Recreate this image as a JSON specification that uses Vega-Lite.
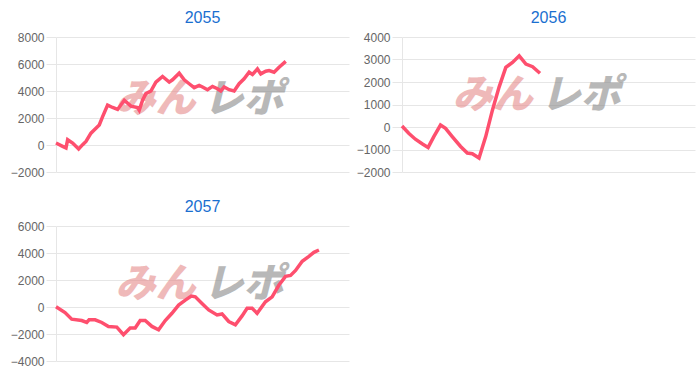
{
  "$schema": "https://vega.github.io/schema/vega-lite/v6.json",
  "background": "white",
  "padding": {"left": 10, "top": 10, "right": 5, "bottom": 5},
  "columns": 2,
  "spacing": {"row": 21, "column": 7},
  "datasets": {
    "y2055": [
      {"i": 0, "v": 146}, {"i": 2.27, "v": -98}, {"i": 3.41, "v": -220}, {"i": 3.98, "v": 390}, {"i": 5.68, "v": 146},
      {"i": 7.73, "v": -293}, {"i": 9.09, "v": 24}, {"i": 10.23, "v": 268}, {"i": 11.93, "v": 878}, {"i": 13.64, "v": 1244},
      {"i": 14.77, "v": 1488}, {"i": 15.91, "v": 2098}, {"i": 17.61, "v": 2951}, {"i": 19.32, "v": 2780}, {"i": 21.02, "v": 2634},
      {"i": 23.3, "v": 3317}, {"i": 25.57, "v": 2878}, {"i": 27.84, "v": 2780}, {"i": 28.41, "v": 2585}, {"i": 29.55, "v": 3317},
      {"i": 30.68, "v": 3805}, {"i": 32.39, "v": 4000}, {"i": 34.09, "v": 4659}, {"i": 36.36, "v": 5073}, {"i": 38.64, "v": 4659},
      {"i": 39.77, "v": 4829}, {"i": 42.05, "v": 5317}, {"i": 43.75, "v": 4829}, {"i": 45.45, "v": 4537}, {"i": 47.16, "v": 4244},
      {"i": 48.86, "v": 4415}, {"i": 50, "v": 4293}, {"i": 51.7, "v": 4098}, {"i": 53.41, "v": 4341}, {"i": 55.11, "v": 4171},
      {"i": 56.25, "v": 4000}, {"i": 57.39, "v": 4293}, {"i": 59.09, "v": 4098}, {"i": 60.8, "v": 4000}, {"i": 62.5, "v": 4537},
      {"i": 64.2, "v": 4902}, {"i": 65.91, "v": 5390}, {"i": 67.05, "v": 5220}, {"i": 68.75, "v": 5634}, {"i": 69.89, "v": 5268},
      {"i": 71.59, "v": 5463}, {"i": 72.73, "v": 5512}, {"i": 74.43, "v": 5390}, {"i": 76.14, "v": 5756}, {"i": 78.41, "v": 6195}
    ],
    "y2056": [
      {"i": 0, "v": 44}, {"i": 2.29, "v": -278}, {"i": 4.57, "v": -542}, {"i": 6.86, "v": -747}, {"i": 8.91, "v": -908},
      {"i": 10.86, "v": -425}, {"i": 13.14, "v": 88}, {"i": 14.86, "v": -59}, {"i": 17.14, "v": -425}, {"i": 20, "v": -864},
      {"i": 22.29, "v": -1157}, {"i": 24, "v": -1186}, {"i": 26.29, "v": -1376}, {"i": 28.57, "v": -425}, {"i": 30.86, "v": 747},
      {"i": 33.14, "v": 1772}, {"i": 35.43, "v": 2650}, {"i": 37.71, "v": 2870}, {"i": 40, "v": 3162}, {"i": 42.29, "v": 2796},
      {"i": 44.57, "v": 2679}, {"i": 47.09, "v": 2386}
    ],
    "y2057": [
      {"i": 0, "v": 24}, {"i": 3.08, "v": -415}, {"i": 5.36, "v": -902}, {"i": 8.78, "v": -1000}, {"i": 10.49, "v": -1146},
      {"i": 11.29, "v": -951}, {"i": 13.34, "v": -951}, {"i": 15.62, "v": -1146}, {"i": 17.9, "v": -1439}, {"i": 20.75, "v": -1488},
      {"i": 23.03, "v": -2049}, {"i": 25.31, "v": -1561}, {"i": 27.02, "v": -1561}, {"i": 28.73, "v": -1000}, {"i": 30.44, "v": -1000},
      {"i": 32.73, "v": -1439}, {"i": 35.01, "v": -1683}, {"i": 37.29, "v": -1000}, {"i": 39.57, "v": -463}, {"i": 41.85, "v": 146},
      {"i": 44.13, "v": 512}, {"i": 46.18, "v": 805}, {"i": 47.55, "v": 756}, {"i": 49.83, "v": 268}, {"i": 52.11, "v": -220},
      {"i": 54.96, "v": -585}, {"i": 56.67, "v": -512}, {"i": 58.95, "v": -1073}, {"i": 61.23, "v": -1317}, {"i": 63.51, "v": -659},
      {"i": 65.22, "v": -98}, {"i": 66.93, "v": -98}, {"i": 68.64, "v": -463}, {"i": 71.49, "v": 390}, {"i": 73.77, "v": 756},
      {"i": 76.05, "v": 1610}, {"i": 78.34, "v": 2268}, {"i": 80.05, "v": 2341}, {"i": 81.76, "v": 2707}, {"i": 84.04, "v": 3390},
      {"i": 86.32, "v": 3756}, {"i": 88.03, "v": 4049}, {"i": 89.74, "v": 4220}
    ],
    "mark2055": [{"i": 34, "v": 3330, "t": "みん", "c": "pink"}, {"i": 64, "v": 3330, "t": "レポ", "c": "gray"}],
    "mark2056": [{"i": 31, "v": 1400, "t": "みん", "c": "pink"}, {"i": 61, "v": 1400, "t": "レポ", "c": "gray"}],
    "mark2057": [{"i": 34, "v": 1600, "t": "みん", "c": "pink"}, {"i": 64, "v": 1600, "t": "レポ", "c": "gray"}]
  },
  "concat": [
    {
      "title": {"text": "2055"},
      "width": 293, "height": 135,
      "encoding": {
        "x": {"field": "i", "type": "quantitative", "scale": {"domain": [0, 100]}, "axis": null},
        "y": {"field": "v", "type": "quantitative", "scale": {"domain": [-2000, 8000], "nice": false},
              "axis": {"values": [-2000, 0, 2000, 4000, 6000, 8000], "title": null, "format": "d", "labelOverlap": false}}
      },
      "layer": [
        {
          "data": {"name": "mark2055"},
          "mark": {"type": "text", "font": "Noto Sans CJK JP", "fontWeight": 900, "fontStyle": "italic", "fontSize": 40, "opacity": 0.6},
          "encoding": {
            "text": {"field": "t"},
            "color": {"field": "c", "type": "nominal", "scale": {"domain": ["pink", "gray"], "range": ["#e58c8c", "#8a8a8a"]}, "legend": null}
          }
        },
        {
          "mark": {"type": "rule", "color": "#c0c0c0", "strokeWidth": 1},
          "encoding": {"x": null, "y": {"datum": 0, "type": "quantitative"}}
        },
        {
          "data": {"name": "y2055"},
          "mark": {"type": "line", "color": "#fe4f6e", "strokeWidth": 3.5},
          "encoding": {}
        }
      ]
    },
    {
      "title": {"text": "2056"},
      "width": 293, "height": 135,
      "encoding": {
        "x": {"field": "i", "type": "quantitative", "scale": {"domain": [0, 100]}, "axis": null},
        "y": {"field": "v", "type": "quantitative", "scale": {"domain": [-2000, 4000], "nice": false},
              "axis": {"values": [-2000, -1000, 0, 1000, 2000, 3000, 4000], "title": null, "format": "d", "labelOverlap": false}}
      },
      "layer": [
        {
          "data": {"name": "mark2056"},
          "mark": {"type": "text", "font": "Noto Sans CJK JP", "fontWeight": 900, "fontStyle": "italic", "fontSize": 40, "opacity": 0.6},
          "encoding": {
            "text": {"field": "t"},
            "color": {"field": "c", "type": "nominal", "scale": {"domain": ["pink", "gray"], "range": ["#e58c8c", "#8a8a8a"]}, "legend": null}
          }
        },
        {
          "mark": {"type": "rule", "color": "#c0c0c0", "strokeWidth": 1},
          "encoding": {"x": null, "y": {"datum": 0, "type": "quantitative"}}
        },
        {
          "data": {"name": "y2056"},
          "mark": {"type": "line", "color": "#fe4f6e", "strokeWidth": 3.5},
          "encoding": {}
        }
      ]
    },
    {
      "title": {"text": "2057"},
      "width": 293, "height": 135,
      "encoding": {
        "x": {"field": "i", "type": "quantitative", "scale": {"domain": [0, 100]}, "axis": null},
        "y": {"field": "v", "type": "quantitative", "scale": {"domain": [-4000, 6000], "nice": false},
              "axis": {"values": [-4000, -2000, 0, 2000, 4000, 6000], "title": null, "format": "d", "labelOverlap": false}}
      },
      "layer": [
        {
          "data": {"name": "mark2057"},
          "mark": {"type": "text", "font": "Noto Sans CJK JP", "fontWeight": 900, "fontStyle": "italic", "fontSize": 40, "opacity": 0.6},
          "encoding": {
            "text": {"field": "t"},
            "color": {"field": "c", "type": "nominal", "scale": {"domain": ["pink", "gray"], "range": ["#e58c8c", "#8a8a8a"]}, "legend": null}
          }
        },
        {
          "mark": {"type": "rule", "color": "#c0c0c0", "strokeWidth": 1},
          "encoding": {"x": null, "y": {"datum": 0, "type": "quantitative"}}
        },
        {
          "data": {"name": "y2057"},
          "mark": {"type": "line", "color": "#fe4f6e", "strokeWidth": 3.5},
          "encoding": {}
        }
      ]
    }
  ],
  "config": {
    "view": {"stroke": null},
    "font": "Liberation Sans",
    "title": {"fontSize": 16, "fontWeight": "normal", "color": "#1a6fd0", "font": "Liberation Sans", "offset": 5, "anchor": "middle"},
    "axisY": {
      "labelFont": "Liberation Sans", "labelFontSize": 12, "labelColor": "#666666",
      "gridColor": "#e6e6e6", "domainColor": "#e6e6e6", "tickColor": "#e6e6e6",
      "tickSize": 10, "labelPadding": 2, "labelFlush": false, "labelOverlap": false
    }
  }
}
